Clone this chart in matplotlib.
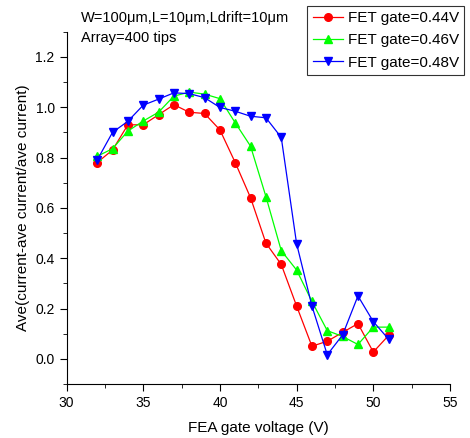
import matplotlib
matplotlib.use('Agg')
import matplotlib.pyplot as plt
from matplotlib.ticker import MultipleLocator

plt.rcParams['font.family'] = ['Liberation Sans', 'DejaVu Sans']

# FEA gate voltage (V)
voltage = [32, 33, 34, 35, 36, 37, 38, 39, 40, 41, 42, 43, 44, 45, 46, 47, 48, 49, 50, 51]

# normalised spread for each FET gate bias
gate_044 = [0.78, 0.83, 0.93, 0.93, 0.97, 1.01, 0.98, 0.975, 0.91, 0.78, 0.64, 0.46, 0.375,
            0.21, 0.05, 0.07, 0.105, 0.14, 0.027, 0.093]
gate_046 = [0.805, 0.835, 0.905, 0.945, 0.98, 1.044, 1.06, 1.052, 1.034, 0.938, 0.845, 0.645,
            0.43, 0.353, 0.228, 0.112, 0.089, 0.057, 0.126, 0.126]
gate_048 = [0.79, 0.9, 0.944, 1.008, 1.032, 1.057, 1.054, 1.038, 0.999, 0.984, 0.964, 0.958,
            0.88, 0.458, 0.21, 0.016, 0.095, 0.25, 0.148, 0.078]

labels = ['FET gate=0.44V', 'FET gate=0.46V', 'FET gate=0.48V']

fig = plt.figure(figsize=(4.7, 4.38), dpi=100)
ax = fig.add_axes([0.1415, 0.1233, 0.8159, 0.8043])

ax.plot(voltage, gate_044, '-o', color='#ff0000', lw=0.9, ms=5.5, label=labels[0])
ax.plot(voltage, gate_046, '-^', color='#00ff00', lw=0.9, ms=6, label=labels[1])
ax.plot(voltage, gate_048, '-v', color='#0000ff', lw=0.9, ms=6, label=labels[2])

ax.set_xlim(30, 55)
ax.set_ylim(-0.1, 1.3)
ax.xaxis.set_major_locator(MultipleLocator(5))
ax.xaxis.set_minor_locator(MultipleLocator(2.5))
ax.yaxis.set_minor_locator(MultipleLocator(0.1))
ax.set_yticks([0.0, 0.2, 0.4, 0.6, 0.8, 1.0, 1.2])
ax.set_yticklabels(['0.0', '0.2', '0.4', '0.6', '0.8', '1.0', '1.2'])

ax.spines['top'].set_visible(False)
ax.spines['right'].set_visible(False)
ax.tick_params(which='both', direction='out', labelsize=10)
ax.tick_params(which='major', length=5)
ax.tick_params(which='minor', length=3)

ax.set_xlabel('FEA gate voltage (V)', fontsize=11, labelpad=8)
ax.set_ylabel('Ave(current-ave current/ave current)', fontsize=11, labelpad=4)

fig.text(0.172, 0.958, 'W=100\u03bcm,L=10\u03bcm,Ldrift=10\u03bcm', fontsize=10.5, va='center')
fig.text(0.172, 0.913, 'Array=400 tips', fontsize=10.5, va='center')

leg = ax.legend(loc='upper right', fontsize=11, frameon=True, fancybox=False, handlelength=2.0,
                borderpad=0.35, labelspacing=0.55, handletextpad=0.3, borderaxespad=0)
leg.set_bbox_to_anchor((0.988, 0.987), transform=fig.transFigure)
leg.get_frame().set_edgecolor('black')
leg.get_frame().set_linewidth(0.8)

fig.savefig('out.png', dpi=100)
